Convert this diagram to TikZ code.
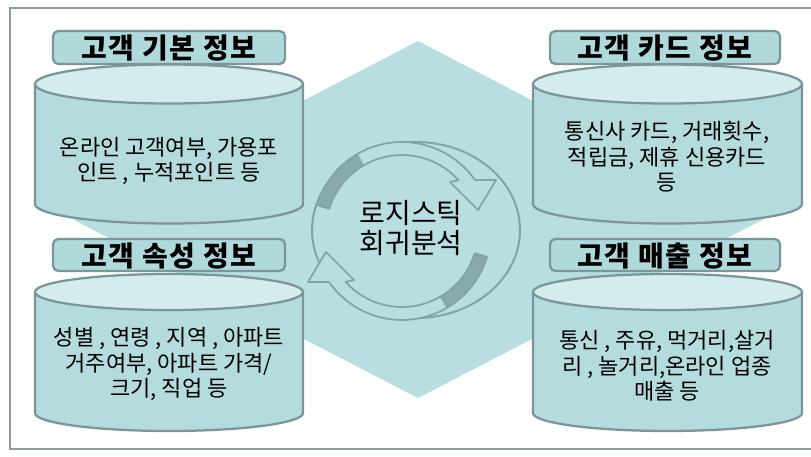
\documentclass[tikz,border=0pt]{standalone}
\usepackage{fontspec}
\newfontfamily\kr{Noto Sans CJK KR}
\definecolor{hexc}{RGB}{184,222,225}
\definecolor{cylbody}{RGB}{180,219,222}
\definecolor{cyltopc}{RGB}{212,236,238}
\definecolor{edgec}{RGB}{122,150,152}
\definecolor{framec}{RGB}{140,156,156}
\definecolor{circc}{RGB}{128,164,167}
\definecolor{arrdarkc}{RGB}{136,170,172}
\definecolor{titlec}{RGB}{176,217,220}
\newcommand\mycyl[5]{%
  \filldraw[cylside] ({#1-#4},#2) -- ({#1-#4},#3) -- plot[domain=180:360,samples=50] ({#1+#4*cos(\x)},{#3-#5*sin(\x)}) -- ({#1+#4},#2) -- cycle;
  \filldraw[cyltop] (#1,#2) ellipse [x radius=#4, y radius=#5];
}
\newcommand\arrowpath{%
  plot[domain=163:35,samples=40] ({89*cos(\x)},{-89*sin(\x)})
    -- (94,-51) -- (76,-21) -- (48,-49)
    -- plot[domain=42:163,samples=40] ({76*cos(\x)},{-76*sin(\x)}) -- cycle}
\newcommand\cyclearrow{%
  \fill[hexc] \arrowpath;
  \fill[arrdarkc] plot[domain=163:120,samples=20] ({89*cos(\x)},{-89*sin(\x)})
    -- plot[domain=120:163,samples=20] ({76*cos(\x)},{-76*sin(\x)}) -- cycle;
  \draw[arrline] \arrowpath;
}
\tikzset{
  cylside/.style={fill=cylbody, draw=edgec, line width=1.7pt, line join=round},
  cyltop/.style={fill=cyltopc, draw=edgec, line width=1.7pt},
  titlebox/.style={fill=titlec, draw=edgec, line width=1.7pt, rounded corners=4pt},
  titletext/.style={font={\kr\bfseries\fontsize{21}{24}\selectfont\addfontfeature{LetterSpace=5}}, text=black, inner sep=0pt},
  bodytext/.style={font={\kr\fontsize{16.5}{19}\selectfont}, text=black, align=center, inner sep=0pt},
  arrline/.style={draw=circc, line width=1.3pt, line join=round},
}
\begin{document}
\begin{tikzpicture}[x=0.75pt,y=-0.75pt]
\useasboundingbox (0,0) rectangle (811,457);
\fill[white] (0,0) rectangle (811,457);
% background hexagon
\fill[hexc] (418,41) -- (762,220) -- (418,398) -- (74,220) -- cycle;
% outer frame
\draw[framec, line width=2.2pt] (10,8) rectangle (830,449);
% cylinders
\mycyl{169}{84}{204}{134}{19.5}
\mycyl{667.5}{84}{204}{134.5}{19.5}
\mycyl{169}{292}{413}{134}{18}
\mycyl{667.5}{292}{413}{134.5}{18}
% title boxes
\draw[titlebox] (53,31) rectangle (285,64);
\draw[titlebox] (550,31) rectangle (780,64);
\draw[titlebox] (53,239) rectangle (285,271);
\draw[titlebox] (550,239) rectangle (780,271);
\node[titletext] (t1) at (169,48) {고객 기본 정보};
\node[titletext] (t2) at (665,48) {고객 카드 정보};
\node[titletext] (t3) at (169,256) {고객 속성 정보};
\node[titletext] (t4) at (665,256) {고객 매출 정보};
% body texts
\node[bodytext] (b1) at (169,161) {온라인 고객여부, 가용포\\인트 , 누적포인트 등};
\node[bodytext] (b2) at (667,157) {통신사 카드, 거래횟수,\\적립금, 제휴 신용카드\\등};
\node[bodytext] (b3) at (169,364) {성별 , 연령 , 지역 , 아파트\\거주여부, 아파트 가격/\\크기, 직업 등};
\node[bodytext] (b4) at (667,366) {통신 , 주유, 먹거리,살거\\리 , 놀거리,온라인 업종\\매출 등};
% cycle
\draw[circc, line width=1.5pt] (416,230) ellipse [x radius=104, y radius=88];
\begin{scope}[shift={(402,231)}]
  \cyclearrow
\end{scope}
\begin{scope}[shift={(402,231)}, rotate=180]
  \cyclearrow
\end{scope}
\node[font={\kr\fontsize{21}{22.5}\selectfont}, align=center, inner sep=0pt, text=black] (c) at (411,228) {로지스틱\\회귀분석};
\end{tikzpicture}
\end{document}
